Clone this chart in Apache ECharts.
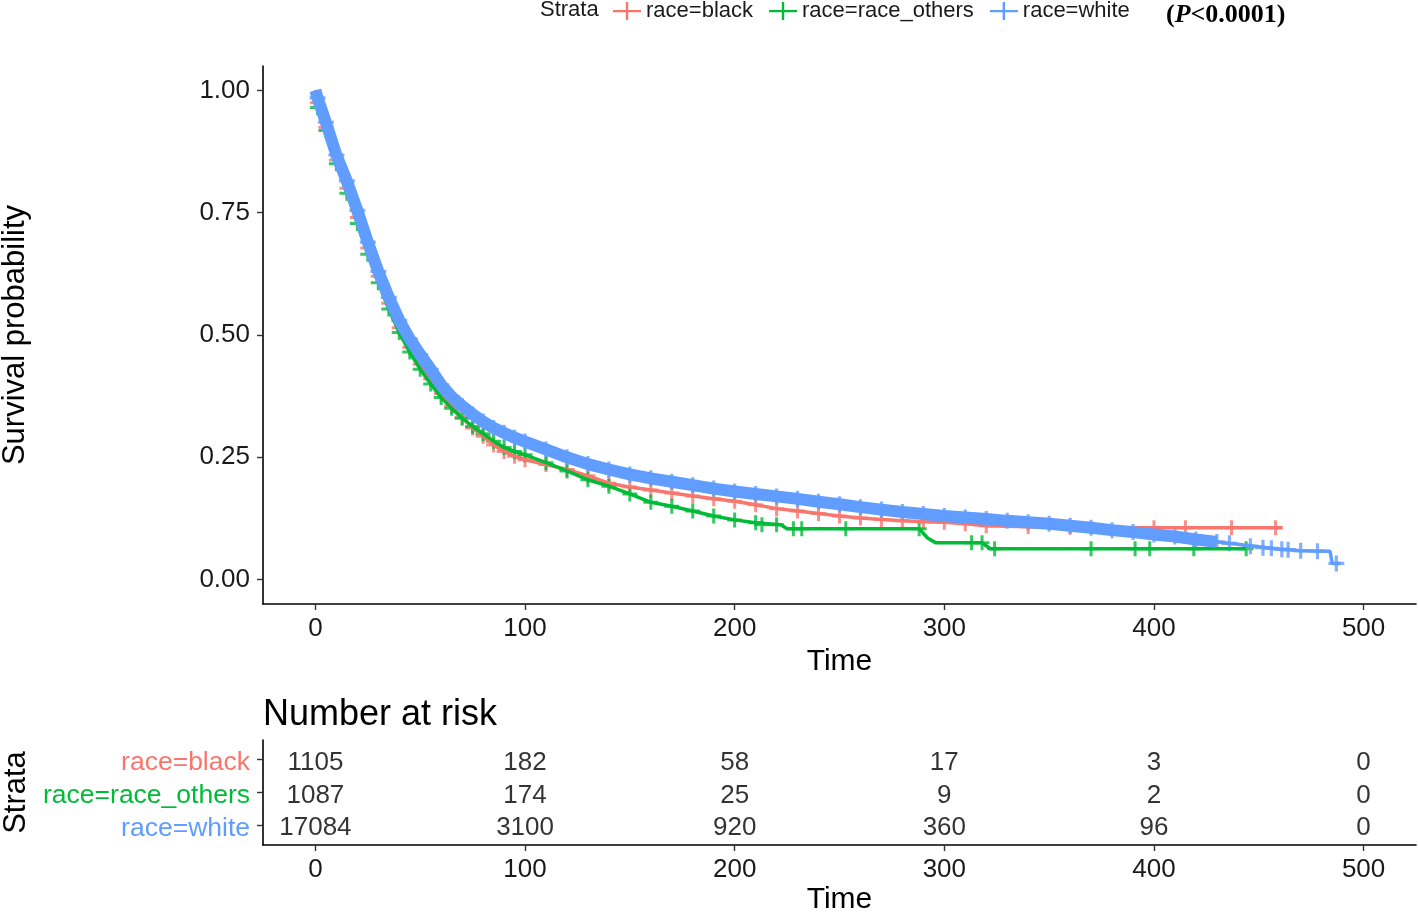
<!DOCTYPE html>
<html>
<head>
<meta charset="utf-8">
<script src="https://cdn.jsdelivr.net/npm/echarts@6/dist/echarts.min.js"></script>
<style>
  html, body { margin: 0; padding: 0; background: #fff; }
  #chart { width: 1418px; height: 913px; }
</style>
</head>
<body>
<div id="chart"></div>
<script>
// survival curves, [time, probability]
const black = [[0,1],[1,0.975],[5,0.925],[10,0.858],[15,0.8],[20,0.74],[25,0.678],[30,0.62],[35,0.565],[40,0.515],[45,0.475],[50,0.44],[55,0.41],[60,0.38],[65,0.355],[70,0.332],[75,0.31],[80,0.293],[85,0.275],[90,0.262],[95,0.252],[100,0.245],[110,0.235],[120,0.225],[130,0.212],[140,0.197],[150,0.189],[160,0.183],[170,0.177],[180,0.171],[190,0.165],[200,0.16],[210,0.153],[220,0.145],[230,0.14],[240,0.135],[250,0.13],[260,0.126],[270,0.123],[280,0.12],[290,0.118],[300,0.117],[310,0.114],[320,0.11],[340,0.108],[360,0.107],[400,0.106],[461,0.106]];
const others = [[0,1],[1,0.965],[5,0.918],[10,0.85],[15,0.79],[20,0.728],[25,0.665],[30,0.607],[35,0.553],[40,0.505],[45,0.465],[50,0.43],[55,0.4],[60,0.372],[65,0.35],[70,0.33],[75,0.313],[80,0.298],[85,0.283],[90,0.27],[95,0.262],[100,0.255],[110,0.239],[120,0.222],[130,0.204],[140,0.191],[150,0.175],[160,0.158],[170,0.15],[180,0.14],[190,0.13],[200,0.122],[210,0.116],[222,0.112],[225,0.104],[288,0.104],[292,0.085],[296,0.075],[318,0.075],[322,0.063],[444,0.063]];
const white = [[0,1],[1,0.985],[5,0.935],[10,0.868],[15,0.815],[20,0.755],[25,0.69],[30,0.63],[35,0.577],[40,0.53],[45,0.492],[50,0.46],[55,0.43],[60,0.398],[65,0.374],[70,0.355],[75,0.338],[80,0.323],[85,0.31],[90,0.3],[95,0.29],[100,0.282],[110,0.266],[120,0.25],[130,0.236],[140,0.225],[150,0.215],[160,0.207],[170,0.2],[180,0.193],[190,0.186],[200,0.18],[210,0.175],[220,0.17],[230,0.165],[240,0.159],[250,0.154],[260,0.148],[270,0.143],[280,0.138],[290,0.134],[300,0.13],[310,0.127],[320,0.124],[330,0.12],[340,0.117],[350,0.114],[360,0.11],[370,0.106],[380,0.101],[390,0.097],[400,0.092],[410,0.088],[420,0.082],[430,0.077],[440,0.072],[450,0.067],[460,0.062],[470,0.059],[484,0.058],[485,0.033],[489,0.033]];

// sparse censor marks at the tail
const blackCensorLate = [[415,0.106],[437,0.106],[458,0.106]];
const othersCensorLate = [[213,0.112],[220,0.112],[228,0.104],[232,0.104],[253,0.104],[288,0.104],[313,0.075],[318,0.075],[324,0.063],[370,0.063],[391,0.063],[398,0.063],[419,0.063],[444,0.063]];
const whiteCensorLate = [[436,0.074],[446,0.068],[452,0.065],[456,0.064],[461,0.062],[464,0.061],[470,0.059],[478,0.058],[487,0.033]];

// number at risk table
const strata = ['race=black', 'race=race_others', 'race=white'];
const colors = ['#F8766D', '#00BA38', '#619CFF'];
const riskTimes = [0, 100, 200, 300, 400, 500];
const riskBlack = [1105, 182, 58, 17, 3, 0];
const riskOthers = [1087, 174, 25, 9, 2, 0];
const riskWhite = [17084, 3100, 920, 360, 96, 0];
const timeTicks = [0, 100, 200, 300, 400, 500];
const survTicks = [0, 0.25, 0.5, 0.75, 1];

const FONT = 'Liberation Sans';
const cross = 'path://M0,4 L10,4 L10,6 L0,6 Z M4,0 L6,0 L6,10 L4,10 Z';
const legendIcon = 'path://M0,8 L28,8 L28,10.3 L0,10.3 Z M12.8,0 L15.2,0 L15.2,18 L12.8,18 Z';

const chart = echarts.init(document.getElementById('chart'));

const axisLine = { show: true, onZero: false, lineStyle: { color: '#000', width: 1.6 } };
const axisTick = { show: true, length: 6, lineStyle: { color: '#333', width: 1.4 } };

function timeAxis(gridIndex, top) {
  return {
    type: 'value', gridIndex: gridIndex, min: -25, max: 525,
    name: 'Time', nameLocation: 'middle', nameGap: top ? 42 : 40,
    nameTextStyle: { fontFamily: FONT, fontSize: 30, color: '#000' },
    axisLine: axisLine,
    axisTick: Object.assign({ customValues: timeTicks }, axisTick),
    axisLabel: { customValues: timeTicks, fontFamily: FONT, fontSize: 26, color: '#1a1a1a', margin: 12 },
    splitLine: { show: false }
  };
}

function curve(name, data, color, width) {
  return {
    type: 'line', name: name, data: data, xAxisIndex: 0, yAxisIndex: 0,
    showSymbol: false, symbol: 'none', color: color,
    lineStyle: { color: color, width: width }, silent: true
  };
}

function marks(name, data, color, size) {
  return {
    type: 'scatter', name: name, data: data, xAxisIndex: 0, yAxisIndex: 0,
    symbol: cross, symbolSize: size, color: color,
    itemStyle: { color: color }, silent: true
  };
}

function riskRow(values, row) {
  return {
    type: 'scatter', xAxisIndex: 1, yAxisIndex: 1, symbolSize: 0, silent: true,
    data: riskTimes.map((t, i) => [t, row, values[i]]),
    label: {
      show: true, position: 'inside', offset: [0, 3], formatter: p => p.value[2],
      fontFamily: FONT, fontSize: 26, color: '#000'
    }
  };
}

const blackCensor = black.filter(p => p[0] > 0 && p[0] <= 400).concat(blackCensorLate);
const othersCensor = others.filter(p => p[0] > 0 && p[0] <= 210).concat(othersCensorLate);
const whiteCensor = white.filter(p => p[0] > 0 && p[0] <= 432).concat(whiteCensorLate);

const option = {
  animation: false,
  backgroundColor: '#fff',
  textStyle: { fontFamily: FONT },
  legend: {
    top: -5, left: 608, itemGap: 16, itemWidth: 28, itemHeight: 18,
    icon: legendIcon,
    data: strata,
    textStyle: { fontFamily: FONT, fontSize: 22, color: '#1a1a1a' }
  },
  graphic: [
    { type: 'text', left: 540, top: -1, style: { text: 'Strata', font: '22px "Liberation Sans"', fill: '#1a1a1a' } },
    {
      type: 'text', left: 1166, top: 2,
      style: {
        text: '{a|(}{b|P}{a|<0.0001)}',
        rich: {
          a: { fontFamily: 'Liberation Serif', fontWeight: 'bold', fontSize: 26, fill: '#000' },
          b: { fontFamily: 'Liberation Serif', fontWeight: 'bold', fontStyle: 'italic', fontSize: 26, fill: '#000' }
        }
      }
    },
    { type: 'text', left: 263, top: 697, style: { text: 'Number at risk', font: '36px "Liberation Sans"', fill: '#000' } }
  ],
  grid: [
    { left: 263, top: 66, width: 1153, height: 538, outerBoundsMode: 'none', containLabel: false },
    { left: 263, top: 740, width: 1153, height: 105, outerBoundsMode: 'none', containLabel: false }
  ],
  xAxis: [timeAxis(0, true), timeAxis(1, false)],
  yAxis: [
    {
      type: 'value', gridIndex: 0, min: -0.05, max: 1.05,
      name: 'Survival probability', nameLocation: 'middle', nameGap: 232, nameRotate: 90,
      nameTextStyle: { fontFamily: FONT, fontSize: 31, color: '#000' },
      axisLine: axisLine,
      axisTick: Object.assign({ customValues: survTicks }, axisTick),
      axisLabel: { customValues: survTicks, formatter: v => v.toFixed(2), fontFamily: FONT, fontSize: 26, color: '#1a1a1a', margin: 13 },
      splitLine: { show: false }
    },
    {
      type: 'value', gridIndex: 1, min: 0.4, max: 3.6, inverse: true,
      name: 'Strata', nameLocation: 'middle', nameGap: 230, nameRotate: 90,
      nameTextStyle: { fontFamily: FONT, fontSize: 31, color: '#000' },
      axisLine: axisLine,
      axisTick: Object.assign({ customValues: [1, 2, 3] }, axisTick),
      axisLabel: {
        customValues: [1, 2, 3], margin: 13,
        formatter: v => '{s' + (Math.round(v) - 1) + '|' + strata[Math.round(v) - 1] + '}',
        rich: {
          s0: { color: colors[0], fontFamily: FONT, fontSize: 26.5, padding: [6, 0, 0, 0] },
          s1: { color: colors[1], fontFamily: FONT, fontSize: 26.5, padding: [6, 0, 0, 0] },
          s2: { color: colors[2], fontFamily: FONT, fontSize: 26.5, padding: [6, 0, 0, 0] }
        }
      },
      splitLine: { show: false }
    }
  ],
  series: [
    curve(strata[0], black, colors[0], 3.5),
    marks(strata[0], blackCensor, colors[0], 15),
    curve(strata[1], others, colors[1], 3.5),
    marks(strata[1], othersCensor, colors[1], 15),
    curve(strata[2], white.filter(p => p[0] <= 432), colors[2], 12),
    curve(strata[2], white, colors[2], 3.5),
    marks(strata[2], whiteCensor, colors[2], 16),
    riskRow(riskBlack, 1),
    riskRow(riskOthers, 2),
    riskRow(riskWhite, 3)
  ]
};

chart.setOption(option);
</script>
</body>
</html>
